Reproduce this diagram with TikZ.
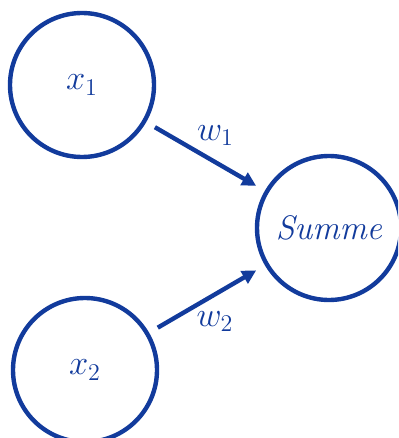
\documentclass[tikz,border=0pt]{standalone}
\usepackage{amsmath}
\usepackage{tikz}
\usetikzlibrary{arrows.meta,positioning}
\definecolor{netblue}{HTML}{123B9C}

\begin{document}
\begin{tikzpicture}[
    x=0.5pt, y=-0.5pt,
    neuron/.style={circle, draw=netblue, line width=2.2pt, minimum size=72pt, inner sep=0pt, text=netblue, font=\fontsize{17}{20}\selectfont},
    arrow/.style={-{Triangle[length=7pt, width=7pt]}, line width=2.2pt, draw=netblue, shorten <=5pt, shorten >=5pt},
    weight/.style={text=netblue, font=\fontsize{17}{20}\selectfont}
]
\clip (0,0) rectangle (398,438);

% Inputs
\node[neuron] (in1) at (82,85) {\raisebox{-3pt}{$x_1$}};
\node[neuron] (in2) at (85,370) {$x_2$};

% Sum
\node[neuron] (sum) at (329,228) {\textit{Summe}};

% Arrows
\draw[arrow] (in1) -- (sum) node[weight, midway, above=1pt, xshift=5pt] (w1) {$w_1$};
\draw[arrow] (in2) -- (sum) node[weight, midway, below=2pt, xshift=4pt] (w2) {$w_2$};
\end{tikzpicture}
\end{document}
